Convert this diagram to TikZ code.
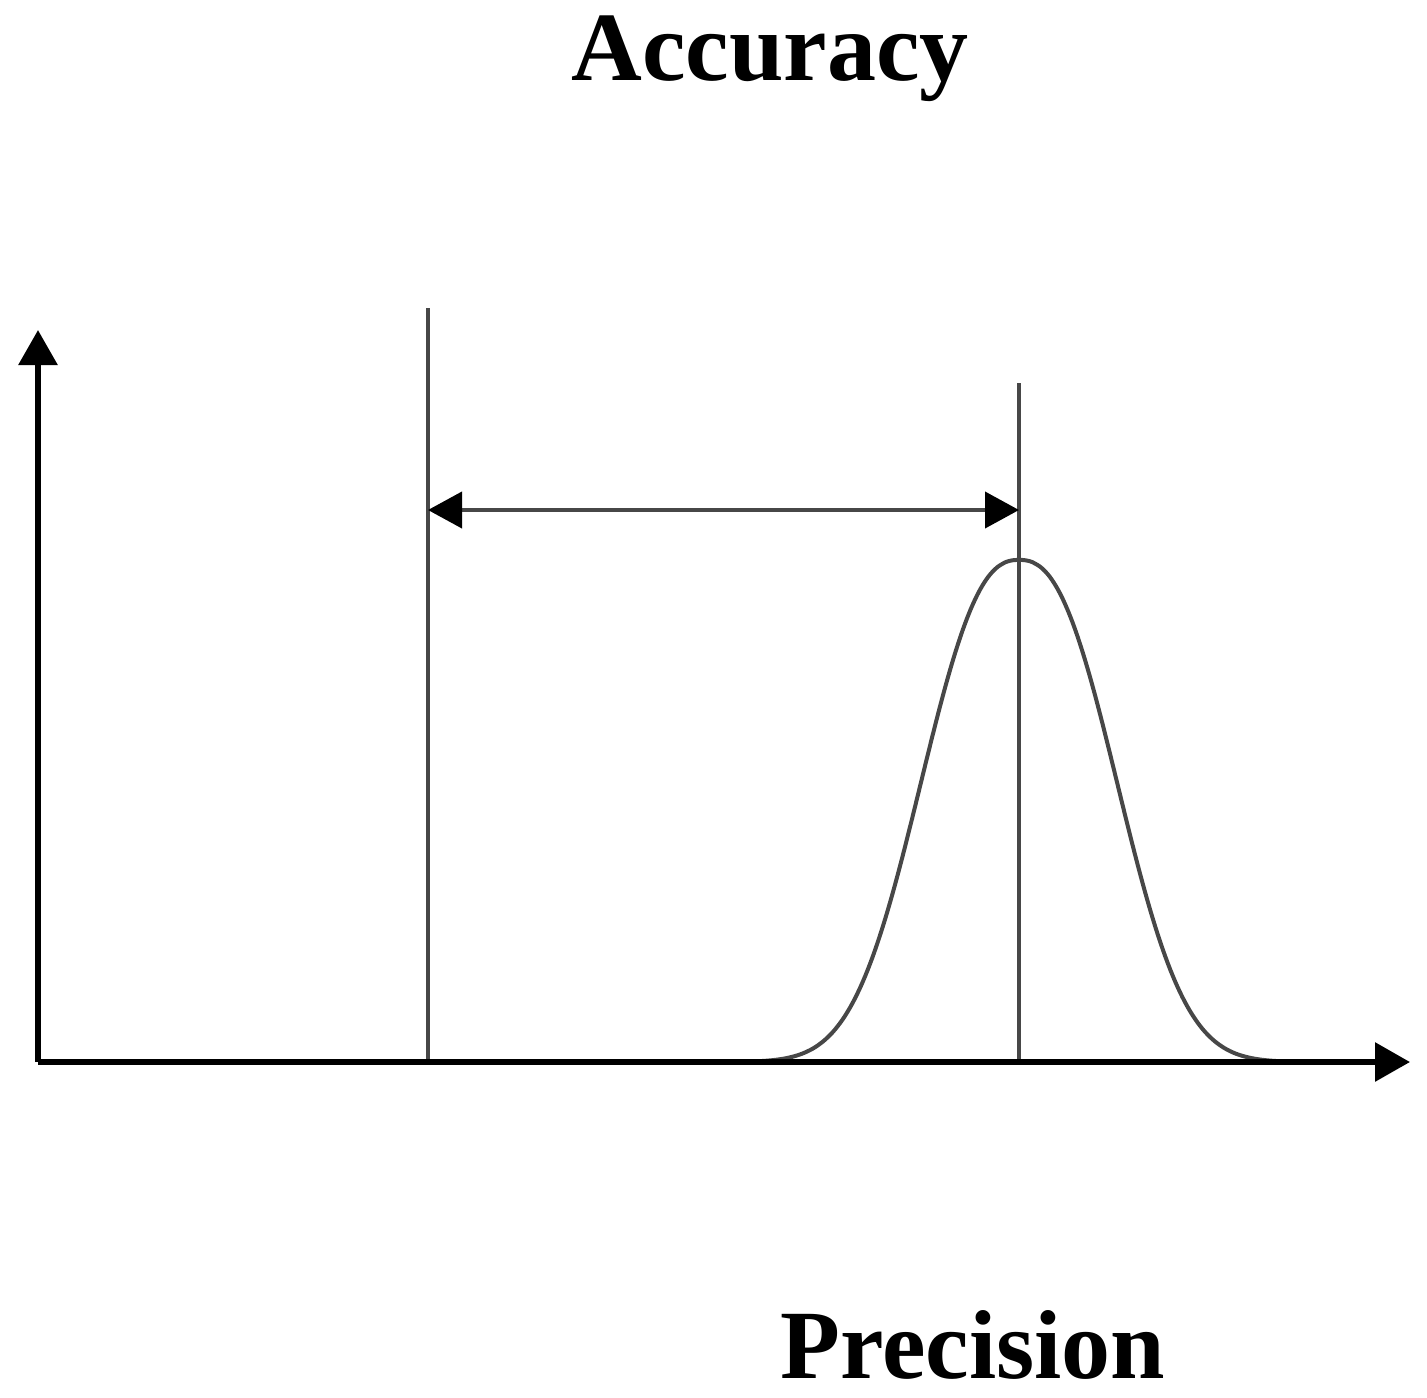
\documentclass[tikz,border=0pt]{standalone}
\usepackage{fontspec}
\setmainfont{Liberation Serif}
\usetikzlibrary{arrows.meta}
\begin{document}
\begin{tikzpicture}[x=0.5pt,y=-0.5pt,
  axis/.style={line width=3pt,black,-{Triangle[length=17.5pt,width=19pt]}},
  guide/.style={line width=2pt,black!72},
  dim/.style={line width=2pt,black!72,{Triangle[length=17pt,width=18pt,fill=black,color=black]}-{Triangle[length=17pt,width=18pt,fill=black,color=black]}},
  title/.style={font=\fontsize{49}{52}\selectfont\bfseries,inner sep=0pt,anchor=base}]
\useasboundingbox (0,0) rectangle (1427,1397);
\coordinate (O) at (38,1062);
\coordinate (ytip) at (38,330);
\coordinate (xtip) at (1410,1062);
\coordinate (Ltop) at (428,308);
\coordinate (Lbot) at (428,1062);
\coordinate (Rtop) at (1019,383);
\coordinate (Rbot) at (1019,1062);
\coordinate (Larr) at (428,510);
\coordinate (Rarr) at (1019,510);
\draw[guide] (Ltop) -- (Lbot);
\draw[guide] (Rtop) -- (Rbot);
\draw[guide] plot[domain=720:1320,samples=241] (\x,{1062-502*exp(-pow(abs(\x-1019)/122+0.0001,2.45))});
\draw[dim] (Larr) -- (Rarr);
\draw[axis] (O) -- (ytip);
\draw[axis] (O) -- (xtip);
\node[title] (acc) at (770,80) {Accuracy};
\node[title] (prec) at (973,1378) {Precision};
\end{tikzpicture}
\end{document}
